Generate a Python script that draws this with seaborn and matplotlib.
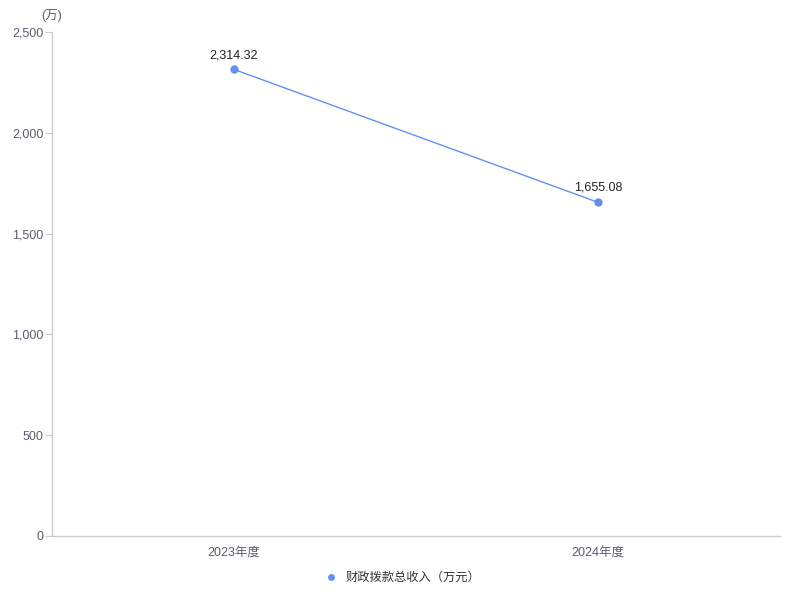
import pandas as pd
import matplotlib
matplotlib.use("Agg")
import matplotlib.pyplot as plt
import seaborn as sns

years = ["2023年度", "2024年度"]
income = [2314.32, 1655.08]
series_name = "财政拨款总收入（万元）"

sns.set_style("white")
plt.rcParams['font.family'] = ['Liberation Sans', 'Noto Sans CJK SC', 'DejaVu Sans']

color = "#6390f0"
grey = "#cccccc"
tick_color = "#5a5f6b"

df = pd.DataFrame({"year": years, "income": income})

fig = plt.figure(figsize=(8, 6), dpi=100)
ax = fig.add_axes([0.065, 0.1067, 0.91, 0.84])

sns.lineplot(data=df, x="year", y="income", ax=ax, color=color, linewidth=1,
             marker="o", markersize=6, markeredgewidth=0, label=series_name,
             legend=False)

for i, v in enumerate(income):
    ax.annotate(f"{v:,.2f}", (i, v), xytext=(0, 6), textcoords="offset points",
                ha="center", va="bottom", fontsize=9, color="#222222")

ax.set_xlim(-0.5, 1.5)
ax.set_ylim(0, 2500)
ax.set_yticks([0, 500, 1000, 1500, 2000, 2500])
ax.set_yticklabels([f"{t:,}" for t in [0, 500, 1000, 1500, 2000, 2500]])
ax.set_xlabel("")
ax.set_ylabel("")

for s in ["top", "right"]:
    ax.spines[s].set_visible(False)
for s in ["left", "bottom"]:
    ax.spines[s].set_color(grey)
    ax.spines[s].set_linewidth(1)

ax.tick_params(axis="y", length=5, color=grey, labelsize=9, labelcolor=tick_color, left=True, pad=1)
ax.tick_params(axis="x", length=0, labelsize=9, labelcolor=tick_color, pad=8)

ax.text(0.0, 1.02, "(万)", transform=ax.transAxes, ha="center", va="bottom",
        fontsize=9, color=tick_color)

handle = plt.Line2D([], [], marker="o", color=color, linestyle="none", markersize=5,
                    markeredgewidth=0)
fig.legend([handle], [series_name], loc="center", bbox_to_anchor=(0.5, 0.037),
           frameon=False, fontsize=8.8, handletextpad=0.2, labelcolor="#333333")

fig.savefig("out.png", dpi=100)
